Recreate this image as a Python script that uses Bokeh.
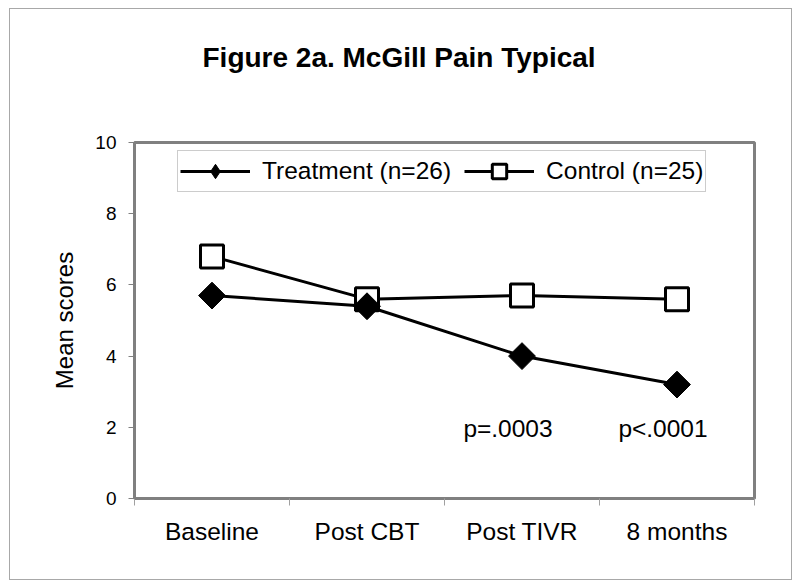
import numpy as np
from bokeh.plotting import figure
from bokeh.models import FixedTicker, Range1d, Label, Legend, LegendItem, Title
from bokeh.embed import file_html
from bokeh.resources import INLINE

# ---- data ----
categories = ["Baseline", "Post CBT", "Post TIVR", "8 months"]
treatment = [5.7, 5.4, 4.0, 3.2]
control = [6.8, 5.6, 5.7, 5.6]
y_ticks = [0, 2, 4, 6, 8, 10]
series_names = ["Treatment (n=26)", "Control (n=25)"]
p_labels = ["p=.0003", "p<.0001"]
p_label_categories = ["Post TIVR", "8 months"]
title_text = "Figure 2a. McGill Pain Typical"
y_label = "Mean scores"

FONT = "Liberation Sans"
xs = [i + 0.5 for i in range(len(categories))]

p = figure(width=783, height=572, output_backend="svg", toolbar_location=None,
           title_location=None,
           x_range=Range1d(0, len(categories)), y_range=Range1d(0, 10),
           min_border_left=124, min_border_right=39, min_border_top=133,
           min_border_bottom=83, background_fill_color="white",
           border_fill_color="white")
p.margin = (8, 8, 8, 9)
p.styles = {"border": "1px solid #a8a8a8"}

p.xgrid.visible = False
p.ygrid.visible = False
p.outline_line_color = "#808080"
p.outline_line_width = 3

# y axis
ya = p.yaxis[0]
ya.ticker = FixedTicker(ticks=y_ticks)
ya.axis_line_color = "#808080"
ya.axis_line_width = 3
ya.major_tick_out = 6
ya.major_tick_in = 0
ya.major_tick_line_color = "#808080"
ya.major_tick_line_width = 1
ya.minor_tick_line_color = None
ya.major_label_text_font = FONT
ya.major_label_text_font_size = "19px"
ya.major_label_text_color = "black"
ya.major_label_standoff = 12
ya.axis_label = y_label
ya.axis_label_text_font = FONT
ya.axis_label_text_font_size = "24px"
ya.axis_label_text_font_style = "normal"
ya.axis_label_text_color = "black"
ya.axis_label_standoff = 14

# x axis
xa = p.xaxis[0]
xa.ticker = FixedTicker(ticks=xs, minor_ticks=list(range(len(categories) + 1)))
xa.major_label_overrides = {x: c for x, c in zip(xs, categories)}
xa.axis_line_color = "#808080"
xa.axis_line_width = 3
xa.major_tick_line_color = None
xa.major_tick_out = 0
xa.major_tick_in = 0
xa.minor_tick_line_color = "#a0a0a0"
xa.minor_tick_line_width = 1
xa.minor_tick_out = 7
xa.minor_tick_in = 0
xa.major_label_text_font = FONT
xa.major_label_text_font_size = "24.5px"
xa.major_label_text_color = "black"
xa.major_label_standoff = 12

# series (control first so treatment is drawn on top)
c_line = p.line(xs, control, line_color="black", line_width=3)
c_mark = p.scatter(xs, control, marker="square", size=23, fill_color="white",
                   line_color="black", line_width=3)
t_line = p.line(xs, treatment, line_color="black", line_width=3)
# legend key for treatment (size 0 on the plot; legend draws its own key size)
t_key = p.scatter(xs, treatment, marker="diamond", size=0, fill_color="black",
                  line_color="black", line_width=1)
t_mark = p.scatter(xs, treatment, marker="square", angle=np.pi / 4, size=19,
                   fill_color="black", line_color="black", line_width=1)

legend = Legend(items=[LegendItem(label=series_names[0], renderers=[t_line, t_key]),
                       LegendItem(label=series_names[1], renderers=[c_line, c_mark])],
                location=(43, 306), orientation="horizontal",
                border_line_color="#999999", border_line_width=1,
                padding=2, spacing=13, label_standoff=12,
                glyph_width=70, glyph_height=36, margin=0,
                label_text_font=FONT, label_text_font_size="24.5px",
                label_text_color="black", background_fill_alpha=1)
p.add_layout(legend)

# p-value annotations
for txt, cat in zip(p_labels, p_label_categories):
    p.add_layout(Label(x=xs[categories.index(cat)], y=1.97, x_offset=-14, text=txt,
                       text_align="center", text_baseline="alphabetic",
                       text_font=FONT, text_font_size="24.5px", text_color="black"))

# title: a blank spacer panel next to the frame, then the real title above it
p.add_layout(Title(text=" ", text_font_size="1px", standoff=67), "above")
p.add_layout(Title(text=title_text, align="left", offset=68, standoff=0,
                   text_font=FONT, text_font_size="28px", text_font_style="bold",
                   text_color="black"), "above")

open("out.html", "w").write(file_html(p, INLINE))
